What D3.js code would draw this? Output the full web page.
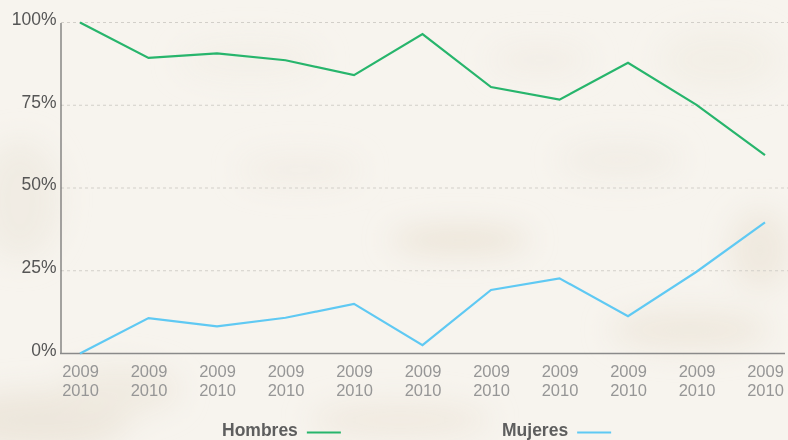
<!DOCTYPE html>
<html>
<head>
<meta charset="utf-8">
<script src="https://cdn.jsdelivr.net/npm/d3@7"></script>
<style>
  html, body { margin: 0; padding: 0; background: #f6f3ec; }
  svg { display: block; font-family: "Liberation Sans", Arial, Helvetica, sans-serif; }
</style>
</head>
<body>
<svg id="chart" width="788" height="440"></svg>
<script>
const categoriesTop = ["2009","2009","2009","2009","2009","2009","2009","2009","2009","2009","2009"];
const categoriesBottom = ["2010","2010","2010","2010","2010","2010","2010","2010","2010","2010","2010"];
const hombres = [100, 89.3, 90.7, 88.6, 84.1, 96.5, 80.5, 76.7, 87.8, 75.1, 59.9];
const mujeres = [0, 10.7, 8.2, 10.8, 15.0, 2.5, 19.2, 22.7, 11.3, 24.7, 39.6];
const yTicks = [0, 25, 50, 75, 100];
const seriesNames = ["Hombres", "Mujeres"];
const seriesColors = ["#27b56c", "#5fc9f3"];

const svg = d3.select("#chart");
const W = 788, H = 440;

// parchment background
const defs = svg.append("defs");
const blur = defs.append("filter").attr("id", "blur").attr("x", "-50%").attr("y", "-50%").attr("width", "200%").attr("height", "200%");
blur.append("feGaussianBlur").attr("stdDeviation", 14);
svg.append("rect").attr("width", W).attr("height", H).attr("fill", "#f7f4ee");
const blobs = [
  [40, 420, 90, 30, "#ece6da"], [120, 390, 60, 25, "#efeae0"], [460, 240, 70, 14, "#ebe3d6"],
  [690, 330, 80, 20, "#eee8dd"], [620, 160, 60, 18, "#f1ece4"], [250, 60, 70, 20, "#f3efe8"],
  [720, 60, 60, 30, "#f2eee6"], [20, 200, 40, 60, "#f0ebe2"], [400, 420, 90, 18, "#efe9df"],
  [300, 170, 60, 16, "#f2ede5"], [540, 60, 50, 16, "#f2ede5"], [760, 250, 30, 40, "#eee8dd"]
];
svg.append("g").attr("filter", "url(#blur)").selectAll("ellipse").data(blobs).join("ellipse")
  .attr("cx", d => d[0]).attr("cy", d => d[1]).attr("rx", d => d[2]).attr("ry", d => d[3])
  .attr("fill", d => d[4]).attr("opacity", 0.9);

const x = d3.scalePoint().domain(d3.range(categoriesTop.length)).range([80, 765]);
const y = d3.scaleLinear().domain([0, 100]).range([353.5, 22.5]);

// gridlines
svg.append("g").selectAll("line").data(yTicks.filter(t => t > 0)).join("line")
  .attr("x1", 61).attr("x2", W).attr("y1", d => y(d)).attr("y2", d => y(d))
  .attr("stroke", "#d2cfc9").attr("stroke-width", 1).attr("stroke-dasharray", "3,3");

// y axis
const yAxis = d3.axisLeft(y).tickValues(yTicks).tickSize(0).tickPadding(4).tickFormat(d => d + "%");
const gy = svg.append("g").attr("transform", "translate(60.5,0)").call(yAxis);
gy.select(".domain").attr("stroke", "#6b6b6b").attr("stroke-width", 1.2);
gy.selectAll("text").attr("font-size", 17.5).attr("fill", "#555").attr("dy", "0.1em")
  .attr("font-family", "'Liberation Sans', Arial, sans-serif");

// x axis baseline
svg.append("line").attr("x1", 60).attr("x2", 785).attr("y1", 353.5).attr("y2", 353.5)
  .attr("stroke", "#8a8a8a").attr("stroke-width", 1.5);

// x labels via axis
const xAxis = d3.axisBottom(x).tickSize(0).tickPadding(0).tickFormat(() => "");
const gx = svg.append("g").attr("transform", "translate(0,353.5)").call(xAxis);
gx.select(".domain").remove();
gx.selectAll(".tick").each(function(d) {
  const t = d3.select(this);
  t.append("text").attr("y", 23).attr("text-anchor", "middle").attr("font-size", 16.5)
    .attr("fill", "#969696").text(categoriesTop[d]);
  t.append("text").attr("y", 42.5).attr("text-anchor", "middle").attr("font-size", 16.5)
    .attr("fill", "#969696").text(categoriesBottom[d]);
});

// lines
const line = d3.line().x((d, i) => x(i)).y(d => y(d));
[hombres, mujeres].forEach((s, k) => {
  svg.append("path").datum(s).attr("d", line).attr("fill", "none")
    .attr("stroke", seriesColors[k]).attr("stroke-width", 2.2).attr("stroke-linejoin", "miter");
});

// legend
const legendX = [222, 502];
const lg = svg.append("g").selectAll("g").data(seriesNames).join("g")
  .attr("transform", (d, i) => `translate(${legendX[i]},436)`);
lg.append("text").attr("font-size", 17.5).attr("font-weight", "bold").attr("fill", "#5e5e5e").text(d => d);
lg.each(function(d, i) {
  const g = d3.select(this);
  const w = g.select("text").node().getComputedTextLength();
  g.append("line").attr("x1", w + 9).attr("x2", w + 43).attr("y1", -3.5).attr("y2", -3.5)
    .attr("stroke", seriesColors[i]).attr("stroke-width", 2);
});
</script>
</body>
</html>
